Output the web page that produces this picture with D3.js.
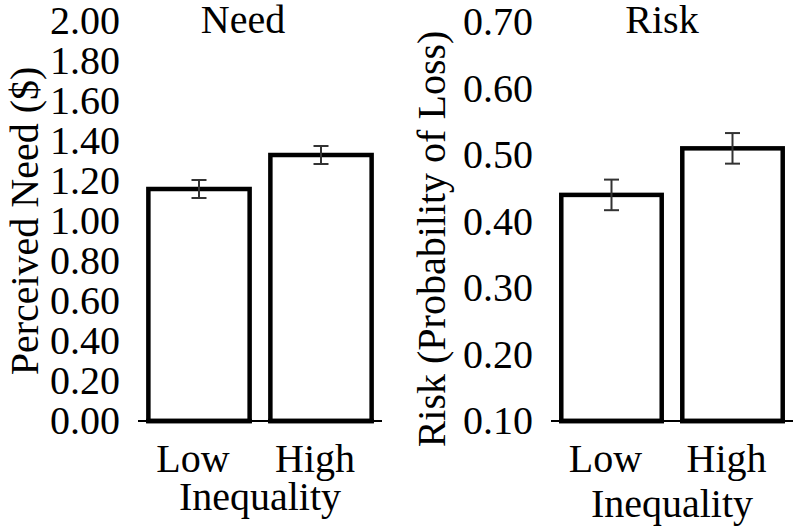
<!DOCTYPE html>
<html><head><meta charset="utf-8">
<script src="https://cdn.jsdelivr.net/npm/d3@7"></script>
<style>
html,body{margin:0;padding:0;background:#fff;}
svg text{font-family:"Liberation Serif","Times New Roman",serif;fill:#000;}
</style></head>
<body><svg id="c" width="793" height="530"></svg>
<script>
const categories = ["Low", "High"];
const needMeans = [1.16, 1.33];
const needErrors = [0.045, 0.045];
const riskMeans = [0.44, 0.51];
const riskErrors = [0.023, 0.023];
const needTicks = [0, 0.2, 0.4, 0.6, 0.8, 1.0, 1.2, 1.4, 1.6, 1.8, 2.0];
const riskTicks = [0.1, 0.2, 0.3, 0.4, 0.5, 0.6, 0.7];

const svg = d3.select("#c");
const FS = 40;

function panel(o) {
  const g = svg.append("g");
  const x = d3.scaleBand().domain(categories).range(o.xr).paddingInner(0.17).paddingOuter(0.085);
  const y = d3.scaleLinear().domain(o.dom).range(o.yr);
  const ax = d3.axisLeft(y).tickValues(o.ticks).tickFormat(d3.format(".2f")).tickSize(0).tickPadding(o.pad);
  const ag = g.append("g").attr("transform", `translate(${o.xr[0]},0)`).call(ax);
  ag.select(".domain").remove();
  ag.selectAll("text").style("font-size", FS + "px").style("font-family", '"Liberation Serif", serif').attr("fill", "#000");

  const data = categories.map((c, i) => ({c, m: o.means[i], e: o.errs[i]}));
  g.selectAll("rect.bar").data(data).join("rect")
    .attr("x", d => x(d.c)).attr("width", x.bandwidth())
    .attr("y", d => y(d.m)).attr("height", d => y(o.dom[0]) - y(d.m))
    .attr("fill", "#fff").attr("stroke", "#000").attr("stroke-width", 4.5);

  // baseline
  g.append("line").attr("x1", o.xr[0]).attr("x2", o.xr[1])
    .attr("y1", y(o.dom[0])).attr("y2", y(o.dom[0]))
    .attr("stroke", "#000").attr("stroke-width", 2);
  // re-draw bar bottoms on top
  g.selectAll("line.bb").data(data).join("line")
    .attr("x1", d => x(d.c) - 2.25).attr("x2", d => x(d.c) + x.bandwidth() + 2.25)
    .attr("y1", y(o.dom[0])).attr("y2", y(o.dom[0]))
    .attr("stroke", "#000").attr("stroke-width", 4.5);

  // error bars
  const eg = g.selectAll("g.err").data(data).join("g").attr("stroke", "#333").attr("stroke-width", 2);
  const cx = d => x(d.c) + x.bandwidth() / 2;
  eg.append("line").attr("x1", cx).attr("x2", cx).attr("y1", d => y(d.m + d.e)).attr("y2", d => y(d.m - d.e));
  eg.append("line").attr("x1", d => cx(d) - 7.5).attr("x2", d => cx(d) + 7.5).attr("y1", d => y(d.m + d.e)).attr("y2", d => y(d.m + d.e));
  eg.append("line").attr("x1", d => cx(d) - 7.5).attr("x2", d => cx(d) + 7.5).attr("y1", d => y(d.m - d.e)).attr("y2", d => y(d.m - d.e));

  // category labels
  g.selectAll("text.cat").data(data).join("text")
    .attr("x", d => cx(d) - 6).attr("y", o.catY)
    .attr("text-anchor", "middle").style("font-size", FS + "px").text(d => d.c);
  g.append("text").attr("x", o.xTitleX).attr("y", o.xTitleY).attr("text-anchor", "middle")
    .style("font-size", FS + "px").text("Inequality");
  g.append("text").attr("x", o.titleX).attr("y", 33).attr("text-anchor", "middle")
    .style("font-size", FS + "px").text(o.title);
  g.append("text").attr("transform", `translate(${o.ylX},${o.ylY}) rotate(-90)`)
    .attr("text-anchor", "middle").style("font-size", FS + "px").text(o.ylabel);
}

panel({xr: [138, 382], yr: [421, 21], dom: [0, 2], ticks: needTicks, pad: 18,
  means: needMeans, errs: needErrors, catY: 472, xTitleX: 260, xTitleY: 510,
  titleX: 243, title: "Need", ylX: 38, ylY: 221, ylabel: "Perceived Need ($)"});
panel({xr: [551, 793], yr: [421, 22], dom: [0.1, 0.7], ticks: riskTicks, pad: 18,
  means: riskMeans, errs: riskErrors, catY: 472, xTitleX: 672, xTitleY: 517,
  titleX: 662, title: "Risk", ylX: 445, ylY: 239, ylabel: "Risk (Probability of Loss)"});
</script></body></html>
